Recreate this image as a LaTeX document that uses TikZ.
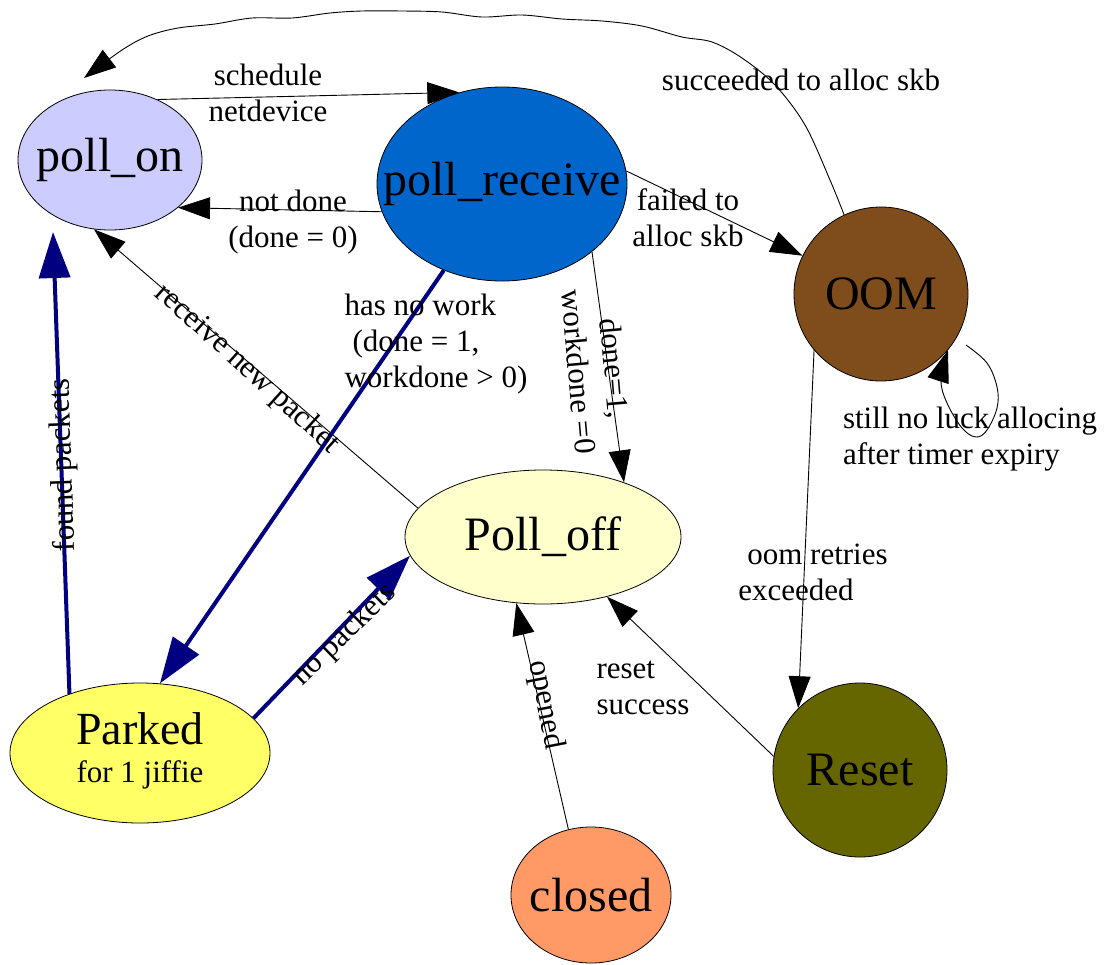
\documentclass[tikz,border=0pt]{standalone}
\usepackage{fontspec}
\setmainfont{Liberation Serif}
\usetikzlibrary{arrows.meta,shapes.geometric}
\definecolor{pollon}{HTML}{CCCCFF}
\definecolor{pollrecv}{HTML}{0066CC}
\definecolor{oomc}{HTML}{7F4C1C}
\definecolor{pollff}{HTML}{FFFFCC}
\definecolor{parkedc}{HTML}{FFFF66}
\definecolor{resetc}{HTML}{666600}
\definecolor{closedc}{HTML}{FF9966}
\definecolor{navyc}{HTML}{000080}
\begin{document}
\begin{tikzpicture}[x=1pt,y=-1pt,
  state/.style={ellipse,draw=black,line width=0.8pt,inner sep=0pt,font=\fontsize{48}{52}\selectfont},
  lbl/.style={font=\fontsize{31}{36}\selectfont,inner sep=0pt,align=center},
  thinarr/.style={line width=0.9pt,draw=black,-{Triangle[length=32pt,width=22pt]}},
  thickarr/.style={line width=4pt,draw=navyc,-{Triangle[length=46pt,width=31pt]}},
]
\useasboundingbox (0,0) rectangle (1108,964);

% states
\node[state,fill=pollon,minimum width=184pt,minimum height=140pt] (pollon) at (110,160) {\makebox[0pt]{\raisebox{-5pt}{poll\_on}}};
\node[state,fill=pollrecv,minimum width=250pt,minimum height=194pt] (pollrecv) at (502,184) {\makebox[0pt]{poll\_receive}};
\node[state,fill=oomc,minimum width=174pt,minimum height=174pt] (oom) at (881,294) {\makebox[0pt]{OOM}};
\node[state,fill=pollff,minimum width=276pt,minimum height=134pt] (polloff) at (543,537) {\makebox[0pt]{Poll\_off}};
\node[state,fill=parkedc,minimum width=260pt,minimum height=140pt] (parked) at (140,753)
  {\makebox[0pt]{\raisebox{-8pt}{\fontsize{46}{38}\selectfont\begin{tabular}{@{}c@{}}Parked\\{\fontsize{31}{36}\selectfont for 1 jiffie}\end{tabular}}}};
\node[state,fill=resetc,minimum width=174pt,minimum height=174pt] (reset) at (860,770) {\makebox[0pt]{Reset}};
\node[state,fill=closedc,minimum width=160pt,minimum height=136pt] (closed) at (591,895) {\makebox[0pt]{closed}};

% thin connectors
\draw[thinarr] (pollon.52) -- (pollrecv.115);
\draw[thinarr] (pollrecv.193) -- (pollon.-35);
\draw[thinarr] (pollrecv.6.5) -- (oom.154.5);
\draw[thinarr] (oom.220) -- (reset.135);
\draw[thinarr] (reset.171.5) -- (polloff.-43);
\draw[thinarr] (closed.109) -- (polloff.248);
\draw[thinarr] (pollrecv.-37) -- (polloff.34.6);
\draw[thinarr] (polloff.167) -- (pollon.257);

% wavy connector OOM -> poll_on
\draw[thinarr] plot[smooth,tension=0.55] coordinates {(oom.115) (830,180) (805,125) (775,85) (742,58) (712,42) (682,37) (642,26) (602,21) (562,19) (522,15) (482,17) (442,12) (402,11) (362,11) (330,13) (292,18) (252,18) (215,24) (178,28) (148,36) (122,50) (84,78)};

% self loop on OOM
\draw[thinarr] plot[smooth,tension=0.6] coordinates {(966,345) (987,363) (997,387) (997,408) (987,430) (976,437) (962,428) (947,403) (941,380) (oom.-40)};

% thick connectors
\draw[thickarr] (pollrecv.236.5) -- (parked.74);
\draw[thickarr] (parked.140) -- (53,232);
\draw[thickarr] (parked.17.7) -- (polloff.188);

% labels
\node[lbl] (l1) at (268,93) {schedule\\netdevice};
\node[lbl] (l2) at (293,222) {not done\\(done = 0)};
\node[lbl] (l3) at (688,218) {failed to\\alloc skb};
\node[lbl] (l4) at (801,80) {succeeded to alloc skb};
\node[lbl,align=left] (l5) at (970,439) {still no luck allocing\\after timer expiry};
\node[lbl,align=left] (l6) at (813,572) {\hspace*{9pt}oom retries\\exceeded};
\node[lbl,align=left] (l7) at (643,688) {reset\\success};
\node[lbl,align=left] (l8) at (436,344) {has no work\\\hspace*{8pt}(done = 1,\\workdone > 0)};
\node[lbl,rotate=-79] (l9) at (545,705) {opened};
\node[lbl,rotate=-85] (l10) at (597,370) {done=1,\\workdone =0};
\node[lbl,rotate=-42] (l11) at (247,369) {receive new packet};
\node[lbl,rotate=92] (l12) at (64,465) {found packets};
\node[lbl,rotate=44] (l13) at (345,635) {no packets};
\end{tikzpicture}
\end{document}
